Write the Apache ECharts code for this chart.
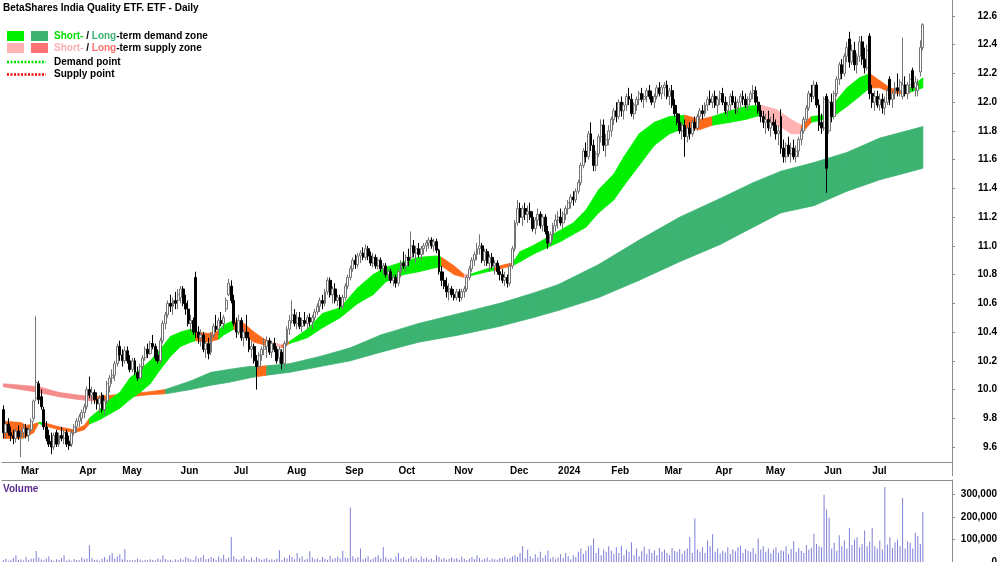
<!DOCTYPE html>
<html>
<head>
<meta charset="utf-8">
<style>
  html, body { margin: 0; padding: 0; background: #fff; }
  #chart-container { width: 1000px; height: 562px; }
</style>
<script src="https://cdn.jsdelivr.net/npm/echarts/dist/echarts.min.js"></script>
</head>
<body>
<div id="chart-container"></div>
<script>
// daily bars, one per ASX trading day from 20 Feb 2023 to 29 Jul 2024
var opens = [
  9.86, 9.70, 9.76, 9.70, 9.68, 9.66, 9.71,
  9.67, 9.70, 9.73, 9.68, 9.72, 9.80, 9.94, 10.04, 9.95, 9.86, 9.74, 9.68, 9.64, 9.60, 9.70, 9.62, 9.68, 9.66, 9.70, 9.64, 9.62, 9.70, 9.74,
  9.78, 9.80, 9.84, 9.88, 10.00, 9.96, 9.98, 9.93, 9.90, 9.96, 9.86, 9.92, 10.02, 10.08, 10.10, 10.18, 10.30,
  10.24, 10.20, 10.27, 10.20, 10.14, 10.20, 10.12, 10.08, 10.16, 10.22, 10.28, 10.25, 10.32, 10.30, 10.24, 10.20, 10.34, 10.46, 10.52, 10.60, 10.58, 10.62, 10.62,
  10.64, 10.70, 10.60, 10.56, 10.46, 10.48, 10.78, 10.40, 10.36, 10.38, 10.28, 10.32, 10.26, 10.38, 10.44, 10.42, 10.48, 10.46, 10.56, 10.66, 10.72,
  10.62, 10.46, 10.40, 10.48, 10.36, 10.40, 10.36, 10.28, 10.30, 10.20, 10.16, 10.24, 10.28, 10.30, 10.34, 10.26, 10.32, 10.28, 10.22, 10.26, 10.18,
  10.32, 10.42, 10.48, 10.52, 10.46, 10.50, 10.44, 10.48, 10.46, 10.50, 10.47, 10.50, 10.54, 10.58, 10.62, 10.60, 10.68, 10.76, 10.66, 10.70, 10.62, 10.64, 10.58,
  10.64, 10.72, 10.78, 10.84, 10.90, 10.87, 10.93, 10.95, 10.92, 10.98, 10.93, 10.88, 10.92, 10.86, 10.90, 10.84, 10.86, 10.80, 10.82, 10.76, 10.78,
  10.74, 10.82, 10.88, 10.86, 10.92, 10.92, 11.00, 10.95, 10.98, 10.94, 10.98, 11.00, 11.02, 11.04, 11.00, 11.03, 10.97, 10.82, 10.76, 10.72, 10.68, 10.70,
  10.66, 10.64, 10.68, 10.64, 10.68, 10.70, 10.78, 10.84, 10.90, 10.94, 10.98, 11.00, 10.90, 10.96, 10.88, 10.92, 10.86, 10.88, 10.82, 10.80, 10.76, 10.78,
  10.74, 10.86, 10.98, 11.16, 11.26, 11.20, 11.26, 11.22, 11.24, 11.20, 11.12, 11.18, 11.22, 11.14, 11.20, 11.10, 11.02, 11.08, 11.14,
  11.18, 11.20, 11.16, 11.22, 11.26, 11.30, 11.34, 11.32, 11.38, 11.44, 11.56, 11.66, 11.62, 11.78, 11.70, 11.56, 11.64, 11.76, 11.84, 11.70, 11.74,
  11.80, 11.88, 11.94, 11.90, 12.00, 11.94, 11.98, 12.04, 12.02, 11.92, 11.98, 12.02, 12.06, 12.02, 12.04, 12.08, 12.04, 12.00, 12.04, 12.10, 12.06,
  12.10, 12.12, 12.04, 12.08, 11.98, 11.92, 11.86, 11.80, 11.84, 11.76, 11.82, 11.78, 11.86, 11.82, 11.90, 11.94, 11.92, 11.98, 12.02, 12.00,
  12.04, 11.98, 12.02, 12.06, 12.00, 11.94, 11.98, 12.04, 12.00, 11.96, 12.00, 12.04, 12.02, 11.98, 12.02, 12.06, 12.08, 12.00, 11.94, 11.90,
  11.86, 11.88, 11.82, 11.86, 11.84, 11.78, 11.90, 11.68, 11.62, 11.70, 11.64, 11.68, 11.62, 11.66, 11.74, 11.80, 11.88, 11.96, 12.06, 12.04, 12.12, 11.98, 11.86,
  11.82, 12.04, 11.80, 12.00, 11.90, 12.06, 12.16, 12.26, 12.20, 12.32, 12.44, 12.28, 12.36, 12.26, 12.32, 12.42, 12.30, 12.24, 12.46,
  12.06, 12.00, 12.04, 11.98, 12.02, 11.96, 12.00, 12.16, 12.02, 12.06, 12.10, 12.08, 12.04, 12.12, 12.06, 12.12, 12.22, 12.10, 12.08, 12.21, 12.38
];
var highs = [
  9.89, 9.78, 9.80, 9.74, 9.72, 9.73, 9.75,
  9.72, 9.76, 9.76, 9.74, 9.80, 9.93, 10.51, 10.06, 10.00, 9.88, 9.78, 9.72, 9.70, 9.70, 9.72, 9.70, 9.74, 9.72, 9.72, 9.68, 9.72, 9.76, 9.80,
  9.83, 9.86, 9.90, 10.02, 10.09, 10.02, 10.00, 9.98, 9.96, 9.98, 9.94, 10.06, 10.10, 10.14, 10.20, 10.32, 10.34,
  10.28, 10.30, 10.30, 10.24, 10.22, 10.22, 10.16, 10.18, 10.24, 10.30, 10.32, 10.34, 10.38, 10.32, 10.28, 10.36, 10.48, 10.54, 10.62, 10.66, 10.64, 10.68, 10.70,
  10.72, 10.72, 10.66, 10.62, 10.52, 10.50, 10.82, 10.44, 10.42, 10.40, 10.34, 10.36, 10.40, 10.46, 10.52, 10.50, 10.54, 10.52, 10.64, 10.77, 10.76,
  10.66, 10.50, 10.52, 10.50, 10.42, 10.52, 10.40, 10.34, 10.32, 10.24, 10.26, 10.30, 10.36, 10.37, 10.36, 10.34, 10.36, 10.30, 10.30, 10.28, 10.34,
  10.44, 10.52, 10.62, 10.56, 10.54, 10.54, 10.50, 10.54, 10.52, 10.53, 10.52, 10.56, 10.60, 10.64, 10.66, 10.70, 10.78, 10.78, 10.72, 10.74, 10.66, 10.66, 10.66,
  10.74, 10.80, 10.86, 10.92, 10.94, 10.95, 10.97, 10.99, 11.01, 11.00, 10.96, 10.95, 10.94, 10.92, 10.92, 10.88, 10.88, 10.84, 10.84, 10.80, 10.80,
  10.84, 10.90, 10.96, 10.94, 10.98, 11.10, 11.04, 11.00, 11.02, 11.00, 11.02, 11.04, 11.06, 11.06, 11.05, 11.05, 10.98, 10.86, 10.82, 10.78, 10.74, 10.72,
  10.70, 10.70, 10.70, 10.70, 10.72, 10.80, 10.86, 10.92, 10.96, 11.02, 11.08, 11.02, 10.98, 10.98, 10.94, 10.95, 10.90, 10.90, 10.86, 10.84, 10.82, 10.80,
  10.88, 11.00, 11.18, 11.32, 11.30, 11.28, 11.30, 11.28, 11.30, 11.24, 11.20, 11.26, 11.24, 11.22, 11.22, 11.14, 11.10, 11.16, 11.22,
  11.24, 11.26, 11.24, 11.28, 11.32, 11.36, 11.38, 11.40, 11.46, 11.58, 11.68, 11.72, 11.80, 11.86, 11.74, 11.66, 11.78, 11.88, 11.88, 11.78, 11.84,
  11.90, 11.96, 12.00, 12.02, 12.04, 12.00, 12.06, 12.10, 12.06, 12.00, 12.04, 12.08, 12.10, 12.06, 12.10, 12.12, 12.08, 12.06, 12.12, 12.14, 12.12,
  12.14, 12.15, 12.10, 12.12, 12.02, 11.98, 11.92, 11.86, 11.88, 11.84, 11.86, 11.88, 11.90, 11.92, 11.96, 11.98, 12.00, 12.04, 12.08, 12.06,
  12.08, 12.04, 12.08, 12.10, 12.04, 12.00, 12.06, 12.08, 12.04, 12.02, 12.06, 12.08, 12.06, 12.04, 12.08, 12.12, 12.11, 12.04, 11.98, 11.94,
  11.92, 11.94, 11.90, 11.92, 11.88, 11.84, 11.95, 11.74, 11.72, 11.76, 11.72, 11.74, 11.70, 11.76, 11.82, 11.90, 11.98, 12.08, 12.12, 12.15, 12.14, 12.02, 11.92,
  12.04, 12.06, 12.02, 12.06, 12.08, 12.18, 12.28, 12.30, 12.34, 12.42, 12.49, 12.40, 12.42, 12.34, 12.46, 12.46, 12.38, 12.40, 12.48,
  12.12, 12.08, 12.08, 12.06, 12.06, 12.04, 12.10, 12.18, 12.08, 12.14, 12.20, 12.16, 12.45, 12.18, 12.14, 12.20, 12.24, 12.18, 12.16, 12.43, 12.55
];
var lows = [
  9.66, 9.66, 9.68, 9.64, 9.62, 9.63, 9.65,
  9.53, 9.66, 9.66, 9.64, 9.70, 9.78, 9.92, 9.90, 9.86, 9.72, 9.64, 9.60, 9.55, 9.58, 9.60, 9.60, 9.64, 9.62, 9.60, 9.58, 9.60, 9.68, 9.70,
  9.74, 9.76, 9.80, 9.86, 9.94, 9.90, 9.90, 9.86, 9.84, 9.84, 9.82, 9.90, 9.98, 10.04, 10.06, 10.16, 10.20,
  10.16, 10.18, 10.18, 10.12, 10.12, 10.10, 10.06, 10.07, 10.14, 10.20, 10.22, 10.24, 10.28, 10.20, 10.18, 10.18, 10.32, 10.42, 10.50, 10.54, 10.52, 10.56, 10.56,
  10.60, 10.58, 10.52, 10.44, 10.40, 10.38, 10.36, 10.32, 10.30, 10.26, 10.22, 10.21, 10.24, 10.36, 10.40, 10.38, 10.44, 10.42, 10.54, 10.65, 10.60,
  10.44, 10.36, 10.38, 10.34, 10.30, 10.34, 10.26, 10.22, 10.18, 10.00, 10.14, 10.20, 10.24, 10.22, 10.24, 10.22, 10.26, 10.18, 10.18, 10.14, 10.16,
  10.30, 10.38, 10.46, 10.44, 10.42, 10.42, 10.40, 10.44, 10.42, 10.44, 10.42, 10.48, 10.52, 10.54, 10.56, 10.58, 10.66, 10.64, 10.60, 10.60, 10.58, 10.56, 10.56,
  10.62, 10.70, 10.76, 10.82, 10.84, 10.85, 10.88, 10.90, 10.90, 10.90, 10.86, 10.85, 10.84, 10.84, 10.82, 10.80, 10.78, 10.76, 10.74, 10.72, 10.71,
  10.72, 10.78, 10.84, 10.82, 10.86, 10.90, 10.92, 10.88, 10.92, 10.90, 10.94, 10.96, 10.98, 10.98, 10.96, 10.95, 10.80, 10.72, 10.70, 10.64, 10.62, 10.64,
  10.62, 10.62, 10.61, 10.62, 10.64, 10.68, 10.76, 10.82, 10.86, 10.90, 10.94, 10.88, 10.86, 10.86, 10.82, 10.84, 10.80, 10.80, 10.76, 10.74, 10.72, 10.71,
  10.72, 10.84, 10.96, 11.14, 11.16, 11.14, 11.18, 11.16, 11.18, 11.10, 11.08, 11.14, 11.12, 11.10, 11.08, 10.98, 11.00, 11.04, 11.10,
  11.12, 11.14, 11.12, 11.18, 11.22, 11.26, 11.28, 11.30, 11.36, 11.42, 11.54, 11.58, 11.60, 11.66, 11.52, 11.52, 11.62, 11.72, 11.66, 11.62, 11.70,
  11.76, 11.84, 11.86, 11.88, 11.90, 11.88, 11.94, 11.98, 11.90, 11.88, 11.94, 11.98, 12.00, 11.96, 12.00, 12.02, 11.98, 11.96, 12.02, 12.04, 12.02,
  12.04, 12.02, 11.98, 11.96, 11.90, 11.84, 11.78, 11.74, 11.62, 11.72, 11.74, 11.76, 11.80, 11.80, 11.86, 11.88, 11.90, 11.94, 11.98, 11.96,
  11.96, 11.92, 11.98, 11.98, 11.92, 11.90, 11.94, 11.98, 11.92, 11.92, 11.96, 11.98, 11.96, 11.94, 12.00, 12.02, 11.98, 11.92, 11.86, 11.82,
  11.78, 11.80, 11.76, 11.80, 11.74, 11.70, 11.64, 11.58, 11.58, 11.62, 11.58, 11.60, 11.58, 11.62, 11.70, 11.78, 11.86, 11.94, 12.00, 12.02, 11.96, 11.80, 11.78,
  11.80, 11.37, 11.78, 11.86, 11.88, 12.04, 12.12, 12.16, 12.18, 12.28, 12.24, 12.26, 12.22, 12.20, 12.28, 12.26, 12.20, 12.22, 12.02,
  11.96, 11.94, 11.96, 11.94, 11.92, 11.91, 11.98, 11.98, 11.96, 12.02, 12.04, 12.04, 12.02, 12.04, 12.02, 12.06, 12.08, 12.04, 12.04, 12.18, 12.36
];
var closes = [
  9.70, 9.76, 9.70, 9.68, 9.66, 9.71, 9.67,
  9.70, 9.73, 9.68, 9.72, 9.78, 9.92, 10.05, 9.93, 9.88, 9.74, 9.66, 9.62, 9.60, 9.68, 9.62, 9.68, 9.66, 9.70, 9.62, 9.61, 9.70, 9.74, 9.78,
  9.81, 9.84, 9.88, 10.00, 9.96, 9.98, 9.93, 9.90, 9.94, 9.86, 9.92, 10.04, 10.08, 10.10, 10.18, 10.30, 10.24,
  10.20, 10.27, 10.20, 10.14, 10.20, 10.12, 10.08, 10.16, 10.22, 10.28, 10.25, 10.32, 10.30, 10.22, 10.20, 10.34, 10.46, 10.52, 10.60, 10.58, 10.62, 10.60, 10.66,
  10.70, 10.60, 10.56, 10.46, 10.48, 10.40, 10.40, 10.36, 10.38, 10.28, 10.32, 10.25, 10.38, 10.44, 10.42, 10.48, 10.46, 10.50, 10.62, 10.74, 10.62,
  10.46, 10.40, 10.48, 10.36, 10.40, 10.36, 10.28, 10.30, 10.20, 10.16, 10.24, 10.28, 10.30, 10.34, 10.26, 10.32, 10.28, 10.20, 10.28, 10.18, 10.32,
  10.42, 10.48, 10.52, 10.46, 10.50, 10.44, 10.48, 10.46, 10.50, 10.47, 10.50, 10.54, 10.58, 10.62, 10.60, 10.68, 10.76, 10.66, 10.70, 10.62, 10.64, 10.58, 10.64,
  10.72, 10.78, 10.84, 10.90, 10.87, 10.93, 10.95, 10.92, 10.98, 10.93, 10.88, 10.92, 10.86, 10.90, 10.84, 10.86, 10.80, 10.82, 10.76, 10.78, 10.74,
  10.82, 10.88, 10.86, 10.92, 10.90, 11.00, 10.95, 10.98, 10.94, 10.98, 11.00, 11.02, 11.04, 11.00, 11.03, 10.97, 10.82, 10.76, 10.72, 10.68, 10.70, 10.66,
  10.64, 10.68, 10.64, 10.68, 10.70, 10.78, 10.84, 10.90, 10.94, 10.98, 11.00, 10.90, 10.96, 10.88, 10.92, 10.86, 10.88, 10.82, 10.80, 10.76, 10.78, 10.74,
  10.86, 10.98, 11.16, 11.26, 11.20, 11.26, 11.22, 11.24, 11.20, 11.12, 11.18, 11.22, 11.14, 11.20, 11.10, 11.02, 11.08, 11.14, 11.18,
  11.20, 11.16, 11.22, 11.26, 11.30, 11.34, 11.32, 11.38, 11.44, 11.56, 11.66, 11.62, 11.78, 11.70, 11.56, 11.64, 11.76, 11.84, 11.70, 11.74, 11.80,
  11.88, 11.94, 11.90, 12.00, 11.94, 11.98, 12.04, 12.02, 11.92, 11.98, 12.02, 12.06, 12.02, 12.04, 12.08, 12.04, 12.00, 12.04, 12.10, 12.06, 12.10,
  12.12, 12.04, 12.08, 11.98, 11.92, 11.86, 11.80, 11.84, 11.76, 11.82, 11.78, 11.86, 11.82, 11.90, 11.94, 11.92, 11.98, 12.02, 12.00, 12.04,
  11.98, 12.02, 12.06, 12.00, 11.94, 11.98, 12.04, 12.00, 11.96, 12.00, 12.04, 12.02, 11.98, 12.02, 12.06, 12.08, 12.00, 11.94, 11.90, 11.86,
  11.88, 11.82, 11.86, 11.84, 11.78, 11.80, 11.68, 11.62, 11.70, 11.64, 11.68, 11.62, 11.66, 11.74, 11.80, 11.88, 11.96, 12.06, 12.04, 12.12, 11.98, 11.84, 11.82,
  12.02, 11.54, 12.00, 11.90, 12.06, 12.16, 12.26, 12.20, 12.32, 12.38, 12.28, 12.36, 12.26, 12.32, 12.42, 12.30, 12.24, 12.36, 12.06,
  12.00, 12.04, 11.98, 12.02, 11.96, 12.00, 12.08, 12.02, 12.06, 12.10, 12.08, 12.14, 12.12, 12.06, 12.12, 12.16, 12.10, 12.14, 12.12, 12.38, 12.54
];
// volume in thousands of units
var volumes = [
  8, 14, 6, 10, 18, 30, 9,
  12, 7, 22, 9, 14, 16, 49, 20, 11, 8, 15, 25, 10, 6, 12, 9, 18, 30, 7, 11, 5, 13, 9,
  8, 20, 12, 15, 74, 18, 9, 10, 6, 14, 22, 11, 30, 40, 16, 25, 35,
  12, 57, 8, 10, 7, 9, 14, 11, 6, 10, 8, 12, 9, 7, 15, 11, 30, 13, 8, 10, 6, 12, 9,
  14, 10, 22, 18, 12, 9, 25, 16, 20, 30, 12, 14, 22, 18, 10, 24, 15, 32, 12, 20, 111,
  25, 14, 10, 16, 28, 12, 9, 20, 8, 22, 15, 10, 13, 18, 9, 12, 8, 14, 52, 10, 20,
  16, 30, 22, 12, 40, 18, 25, 10, 14, 48, 20, 12, 16, 9, 22, 14, 10, 28, 12, 18, 24, 15, 50,
  20, 18, 242, 26, 14, 22, 60, 12, 18, 25, 10, 16, 22, 30, 14, 67, 20, 12, 18, 10, 24,
  40, 14, 22, 10, 16, 26, 12, 18, 9, 24, 14, 20, 11, 16, 8, 30, 22, 12, 18, 10, 14, 20,
  12, 18, 10, 24, 14, 9, 16, 22, 12, 30, 18, 10, 14, 20, 8, 16, 12, 10, 18, 14, 22, 12,
  18, 26, 30, 22, 40, 71, 18, 55, 25, 16, 34, 20, 45, 18, 30, 50, 14, 22, 12,
  20, 34, 18, 40, 26, 12, 30, 22, 45, 60, 35, 50, 70, 74, 104, 40, 62, 30, 55, 45, 70,
  50, 35, 65, 40, 72, 30, 55, 45, 88, 30, 60, 25, 48, 68, 35, 58, 40, 52, 30, 62, 45,
  55, 40, 30, 62, 50, 45, 58, 36, 50, 60, 111, 40, 193, 55, 45, 65, 40, 96, 70, 123,
  45, 60, 38, 50, 42, 65, 35, 55, 48, 66, 72, 40, 58, 50, 45, 62, 38, 104, 55, 70,
  45, 60, 38, 55, 66, 40, 52, 48, 70, 35, 58, 92, 44, 62, 50, 40, 75, 55, 62, 126, 80, 70, 66,
  299, 233, 197, 60, 85, 50, 119, 70, 95, 60, 151, 75, 100, 110, 65, 80, 140, 70, 90,
  151, 70, 60, 95, 55, 333, 78, 110, 62, 88, 100, 70, 284, 60, 92, 85, 60, 130, 114, 80, 222
];

// short-term zone: bar index, upper edge, lower edge, state (g demand, o/p supply)
var stIdx = [0, 7, 9, 12, 14, 16, 22, 28, 32, 34, 38, 42, 46, 50, 54, 58, 62, 66, 70, 74,
  76, 81, 85, 87, 91, 95, 99, 103, 106, 110, 113, 120, 126, 133, 140, 146, 151, 158, 164, 171,
  173, 178, 182, 184, 191, 194, 198, 201, 204, 209, 215, 220, 225, 230, 235, 241, 245, 251, 257, 263,
  269, 275, 280, 287, 293, 299, 305, 311, 315, 319, 324, 326, 333, 338, 342, 346, 350, 354, 358, 363];
var stHi = [9.78, 9.77, 9.75, 9.76, 9.77, 9.77, 9.74, 9.72, 9.75, 9.80, 9.86, 9.93, 9.98, 10.08, 10.14, 10.20, 10.28, 10.37, 10.40, 10.42,
  10.40, 10.39, 10.41, 10.45, 10.48, 10.46, 10.40, 10.35, 10.33, 10.31, 10.335, 10.42, 10.53, 10.57, 10.71, 10.80, 10.85, 10.89, 10.92, 10.93,
  10.92, 10.86, 10.80, 10.80, 10.84, 10.85, 10.87, 10.88, 10.96, 11.00, 11.06, 11.11, 11.16, 11.25, 11.39, 11.50, 11.62, 11.78, 11.86, 11.90,
  11.91, 11.88, 11.90, 11.94, 11.97, 11.98, 11.95, 11.88, 11.84, 11.90, 11.91, 11.95, 12.10, 12.17, 12.20, 12.15, 12.10, 12.08, 12.10, 12.17];
var stLo = [9.66, 9.66, 9.67, 9.70, 9.765, 9.75, 9.72, 9.70, 9.72, 9.76, 9.79, 9.83, 9.87, 9.93, 9.98, 10.04, 10.14, 10.23, 10.30, 10.33,
  10.34, 10.33, 10.35, 10.38, 10.42, 10.38, 10.33, 10.31, 10.31, 10.29, 10.32, 10.36, 10.43, 10.50, 10.60, 10.66, 10.75, 10.80, 10.82, 10.85,
  10.86, 10.80, 10.78, 10.79, 10.82, 10.83, 10.85, 10.86, 10.89, 10.94, 10.99, 11.03, 11.08, 11.13, 11.23, 11.32, 11.42, 11.56, 11.70, 11.78,
  11.82, 11.81, 11.84, 11.86, 11.88, 11.91, 11.85, 11.78, 11.78, 11.86, 11.88, 11.88, 11.97, 12.04, 12.10, 12.10, 12.07, 12.06, 12.07, 12.10];
var stCol = ['o', 'o', 'o', 'o', 'g', 'o', 'o', 'o', 'o', 'g', 'g', 'g', 'g', 'g', 'g', 'g', 'g', 'g', 'g', 'g',
  'o', 'o', 'g', 'g', 'o', 'o', 'o', 'o', 'p', 'o', 'g', 'g', 'g', 'g', 'g', 'g', 'g', 'g', 'g', 'g',
  'o', 'o', 'p', 'g', 'g', 'o', 'o', 'g', 'g', 'g', 'g', 'g', 'g', 'g', 'g', 'g', 'g', 'g', 'g', 'g',
  'o', 'o', 'g', 'g', 'g', 'p', 'p', 'p', 'o', 'g', 'g', 'g', 'g', 'g', 'o', 'o', 'o', 'o', 'g', 'g'];

// long-term zone
var ltIdx = [0, 14, 22, 30, 36, 42, 50, 58, 64, 74, 82, 89, 97, 100, 104, 113, 125, 137, 149, 164,
  180, 196, 209, 219, 235, 251, 267, 283, 296, 307, 320, 333, 346, 363];
var ltHi = [10.04, 10.02, 9.98, 9.96, 9.95, 9.96, 9.97, 9.985, 10.00, 10.06, 10.12, 10.14, 10.16, 10.16, 10.165, 10.18, 10.23, 10.29, 10.38, 10.46,
  10.53, 10.60, 10.67, 10.73, 10.87, 11.04, 11.20, 11.33, 11.44, 11.52, 11.58, 11.65, 11.75, 11.83];
var ltLo = [10.02, 9.98, 9.95, 9.93, 9.92, 9.93, 9.95, 9.965, 9.97, 10.00, 10.03, 10.05, 10.08, 10.09, 10.10, 10.12, 10.16, 10.20, 10.26, 10.33,
  10.38, 10.44, 10.50, 10.55, 10.64, 10.76, 10.89, 11.01, 11.13, 11.23, 11.28, 11.38, 11.46, 11.54];
var ltCol = ['R', 'R', 'R', 'R', 'O', 'O', 'O', 'O', 'G', 'G', 'G', 'G', 'G', 'O', 'G', 'G', 'G', 'G', 'G', 'G',
  'G', 'G', 'G', 'G', 'G', 'G', 'G', 'G', 'G', 'G', 'G', 'G', 'G', 'G'];

var holidays = ['2023-04-07', '2023-04-10', '2023-04-25', '2023-06-12', '2023-12-25', '2023-12-26',
  '2024-01-01', '2024-01-26', '2024-03-29', '2024-04-01', '2024-04-25', '2024-06-10'];
var monthNames = ['Jan', 'Feb', 'Mar', 'Apr', 'May', 'Jun', 'Jul', 'Aug', 'Sep', 'Oct', 'Nov', 'Dec'];
var spareDays = 11; // blank room right of the last bar

var FONT = '"Liberation Sans", Arial, sans-serif';
var AXIS_GREY = '#8c8c8c';
var zoneColors = { g: '#00f000', o: '#ff6a1a', p: '#ffb3b3', G: '#3cb371', R: '#f48c8c', O: '#ff6a1a' };

// trading-day categories
var dates = [];
var day = new Date(Date.UTC(2023, 1, 20));
while (dates.length < closes.length + spareDays) {
  var wd = day.getUTCDay();
  var s = day.toISOString().slice(0, 10);
  if (wd !== 0 && wd !== 6 && holidays.indexOf(s) < 0) dates.push(s);
  day.setUTCDate(day.getUTCDate() + 1);
}

function isMonthStart(index) {
  return index > 0 && index < closes.length && dates[index].slice(5, 7) !== dates[index - 1].slice(5, 7);
}

function monthLabel(value) {
  var m = +value.slice(5, 7);
  return m === 1 ? value.slice(0, 4) : monthNames[m - 1];
}

function zoneRenderer(idx, hi, lo, col) {
  return function (params, api) {
    var k = params.dataIndex;
    if (k >= idx.length - 1) return null;
    var a = api.coord([idx[k], hi[k]]);
    var b = api.coord([idx[k + 1], hi[k + 1]]);
    var c = api.coord([idx[k + 1], lo[k + 1]]);
    var d = api.coord([idx[k], lo[k]]);
    var fill = zoneColors[col[k]];
    return {
      type: 'polygon',
      shape: { points: [a, b, c, d] },
      style: { fill: fill, stroke: fill, lineWidth: 0.8 }
    };
  };
}

var candleData = closes.map(function (c, i) {
  return [opens[i], c, lows[i], highs[i]];
});
var stData = stIdx.map(function (x, k) { return [x, stHi[k], stLo[k]]; });
var ltData = ltIdx.map(function (x, k) { return [x, ltHi[k], ltLo[k]]; });

var labelStyle = { color: '#000', fontWeight: 'bold', fontSize: 10, fontFamily: FONT };

var dom = document.getElementById('chart-container');
var myChart = echarts.init(dom, null, { renderer: 'canvas' });

var option = {
  animation: false,
  backgroundColor: '#ffffff',
  grid: [
    { left: 2, right: 48, top: -12.74, height: 488.48, outerBoundsMode: 'none' },
    { left: 2, right: 48, top: 0, height: 462, outerBoundsMode: 'none' },
    { left: 2, right: 48, top: 480, height: 82, outerBoundsMode: 'none' }
  ],
  xAxis: [
    { type: 'category', gridIndex: 0, data: dates, show: false },
    {
      type: 'category', gridIndex: 1, data: dates,
      axisLine: { onZero: false, lineStyle: { color: AXIS_GREY } },
      axisTick: { interval: isMonthStart, length: 3, lineStyle: { color: AXIS_GREY } },
      axisLabel: Object.assign({ interval: isMonthStart, formatter: monthLabel, align: 'left', margin: 4 }, labelStyle),
      splitLine: { show: false }
    },
    {
      type: 'category', gridIndex: 2, data: dates, position: 'top',
      axisLine: { onZero: false, lineStyle: { color: AXIS_GREY } },
      axisTick: { show: false },
      axisLabel: { show: false },
      splitLine: { show: false }
    }
  ],
  yAxis: [
    {
      type: 'value', gridIndex: 0, position: 'right', min: 9.4, max: 12.8, interval: 0.2,
      splitLine: { show: false },
      axisLine: { show: true, lineStyle: { color: AXIS_GREY } },
      axisTick: { show: true, length: 3, lineStyle: { color: AXIS_GREY } },
      axisLabel: Object.assign({
        align: 'right', margin: 45, showMinLabel: false, showMaxLabel: false,
        formatter: function (v) { return v.toFixed(1); }
      }, labelStyle)
    },
    { type: 'value', gridIndex: 1, show: false },
    {
      type: 'value', gridIndex: 2, position: 'right', min: 0, max: 364.4, interval: 100,
      splitLine: { show: false },
      axisLine: { show: true, lineStyle: { color: AXIS_GREY } },
      axisTick: { show: true, length: 3, lineStyle: { color: AXIS_GREY } },
      axisLabel: Object.assign({
        align: 'right', margin: 45, showMaxLabel: false,
        formatter: function (v) { return v === 0 ? '0' : v + ',000'; }
      }, labelStyle)
    }
  ],
  graphic: [
    { type: 'text', x: 3, y: 8, style: { text: 'BetaShares India Quality ETF. ETF - Daily', fill: '#000', fontWeight: 'bold', fontSize: 10, fontFamily: FONT, verticalAlign: 'middle' } },
    { type: 'rect', shape: { x: 7, y: 31, width: 17, height: 10 }, style: { fill: '#00f000' } },
    { type: 'rect', shape: { x: 31, y: 31, width: 17, height: 10 }, style: { fill: '#3cb371' } },
    { type: 'rect', shape: { x: 7, y: 43, width: 17, height: 10 }, style: { fill: '#ffb3b3' } },
    { type: 'rect', shape: { x: 31, y: 43, width: 17, height: 10 }, style: { fill: '#ff7575' } },
    { type: 'line', shape: { x1: 7, y1: 62, x2: 46, y2: 62 }, style: { stroke: '#00e000', lineWidth: 2.5, lineDash: [2, 1.5] } },
    { type: 'line', shape: { x1: 7, y1: 74.5, x2: 46, y2: 74.5 }, style: { stroke: '#ee0000', lineWidth: 2.5, lineDash: [2, 1.5] } },
    {
      type: 'text', x: 54, y: 36,
      style: {
        text: '{a|Short-} / {b|Long}-term demand zone', fill: '#000', fontWeight: 'bold', fontSize: 10, fontFamily: FONT, verticalAlign: 'middle',
        rich: {
          a: { fill: '#00dd00', fontWeight: 'bold', fontSize: 10, fontFamily: FONT },
          b: { fill: '#3cb371', fontWeight: 'bold', fontSize: 10, fontFamily: FONT }
        }
      }
    },
    {
      type: 'text', x: 54, y: 48.5,
      style: {
        text: '{a|Short-} / {b|Long}-term supply zone', fill: '#000', fontWeight: 'bold', fontSize: 10, fontFamily: FONT, verticalAlign: 'middle',
        rich: {
          a: { fill: '#ffb0b0', fontWeight: 'bold', fontSize: 10, fontFamily: FONT },
          b: { fill: '#ff6f6f', fontWeight: 'bold', fontSize: 10, fontFamily: FONT }
        }
      }
    },
    { type: 'text', x: 54, y: 62, style: { text: 'Demand point', fill: '#000', fontWeight: 'bold', fontSize: 10, fontFamily: FONT, verticalAlign: 'middle' } },
    { type: 'text', x: 54, y: 74.5, style: { text: 'Supply point', fill: '#000', fontWeight: 'bold', fontSize: 10, fontFamily: FONT, verticalAlign: 'middle' } },
    { type: 'text', x: 3, y: 489, style: { text: 'Volume', fill: '#5b2a8e', fontWeight: 'bold', fontSize: 10, fontFamily: FONT, verticalAlign: 'middle' } }
  ],
  series: [
    {
      name: 'Long-term zone', type: 'custom', xAxisIndex: 0, yAxisIndex: 0,
      renderItem: zoneRenderer(ltIdx, ltHi, ltLo, ltCol),
      data: ltData, encode: { x: 0, y: [1, 2] }, silent: true
    },
    {
      name: 'Short-term zone', type: 'custom', xAxisIndex: 0, yAxisIndex: 0,
      renderItem: zoneRenderer(stIdx, stHi, stLo, stCol),
      data: stData, encode: { x: 0, y: [1, 2] }, silent: true
    },
    {
      name: 'Price', type: 'candlestick', xAxisIndex: 0, yAxisIndex: 0,
      data: candleData, barWidth: 2.4,
      itemStyle: { color: '#ffffff', color0: '#000000', borderColor: '#737373', borderColor0: '#000000', borderWidth: 1 }
    },
    {
      name: 'Volume', type: 'bar', xAxisIndex: 2, yAxisIndex: 2,
      data: volumes, barWidth: 1,
      itemStyle: { color: '#7f7fd8' }
    }
  ]
};

if (option && typeof option === 'object') {
  myChart.setOption(option);
}

window.addEventListener('resize', myChart.resize);
</script>
</body>
</html>
